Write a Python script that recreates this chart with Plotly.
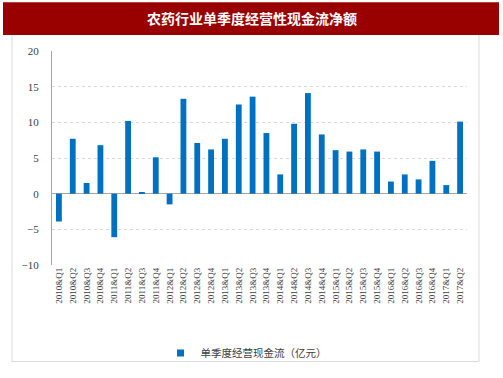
import plotly.graph_objects as go

categories = [f"{y}&Q{q}" for y in range(2010, 2018) for q in range(1, 5)][:30]
values = [-3.9, 7.7, 1.5, 6.8, -6.1, 10.2, 0.15, 5.1,
          -1.5, 13.3, 7.1, 6.2, 7.7, 12.5, 13.6, 8.5,
          2.7, 9.8, 14.1, 8.3, 6.1, 5.9, 6.2, 5.9,
          1.7, 2.7, 2.0, 4.6, 1.2, 10.1]
series_name = "单季度经营现金流（亿元）"
title_text = "农药行业单季度经营性现金流净额"
y_ticks = [-10, -5, 0, 5, 10, 15, 20]

W, H = 503, 378
L, R, T, B = 52, 467, 51, 266
BAR_COLOR = "#0070C0"

def px(x):
    return (x - L) / (R - L)

def py(y):
    return (B - y) / (B - T)

fig = go.Figure()
fig.add_trace(go.Bar(
    x=categories, y=values, name=series_name,
    marker=dict(color=BAR_COLOR, line=dict(width=0)),
    width=0.42, showlegend=False,
))
# legend entry (small square swatch like the original)
fig.add_trace(go.Scatter(
    x=[None], y=[None], mode="markers", name=series_name,
    marker=dict(symbol="square", size=7, color=BAR_COLOR),
    showlegend=True,
))

shapes = [
    dict(type="rect", xref="paper", yref="paper",
         x0=px(3), x1=px(499), y0=py(35), y1=py(2),
         fillcolor="#990000", line=dict(width=0), layer="below"),
    dict(type="line", xref="paper", yref="paper",
         x0=px(12), x1=px(12), y0=py(35), y1=py(363),
         line=dict(color="#d9d9d9", width=1)),
    dict(type="line", xref="paper", yref="paper",
         x0=px(479), x1=px(479), y0=py(35), y1=py(363),
         line=dict(color="#d9d9d9", width=1)),
    dict(type="line", xref="paper", yref="paper",
         x0=px(12), x1=px(479), y0=py(363), y1=py(363),
         line=dict(color="#d9d9d9", width=1)),
]

fig.update_layout(
    width=W, height=H,
    margin=dict(l=L, r=W - R, t=T, b=H - B, pad=0),
    paper_bgcolor="white", plot_bgcolor="white",
    shapes=shapes,
    annotations=[dict(
        text="<b>" + title_text + "</b>", xref="paper", yref="paper",
        x=px(252), y=py(18), xanchor="center", yanchor="middle",
        showarrow=False, font=dict(family="Noto Sans CJK SC", size=14, color="white"))],
    legend=dict(orientation="h", x=px(246), y=py(353), xanchor="center", yanchor="middle",
                font=dict(family="Noto Sans CJK SC", size=10.5, color="#404040"),
                itemwidth=30, itemsizing="trace", bgcolor="rgba(0,0,0,0)"),
    xaxis=dict(
        type="category", tickangle=-90, showgrid=False,
        tickfont=dict(family="Liberation Serif", size=9, color="#404040"),
        showline=False, ticks="", zeroline=False, automargin=False,
    ),
    yaxis=dict(
        range=[-10, 20], tickvals=y_ticks, showgrid=True,
        gridcolor="#d9d9d9", griddash="dot", gridwidth=1,
        zeroline=True, zerolinecolor="#a6a6a6", zerolinewidth=1,
        showline=True, linecolor="#a6a6a6", linewidth=1,
        ticks="", ticklabelstandoff=10,
        tickfont=dict(family="Liberation Serif", size=11, color="#404040"),
        automargin=False,
    ),
)

fig.write_html("out.html", config={"displayModeBar": False},
               post_script="document.body.style.margin='0';")
